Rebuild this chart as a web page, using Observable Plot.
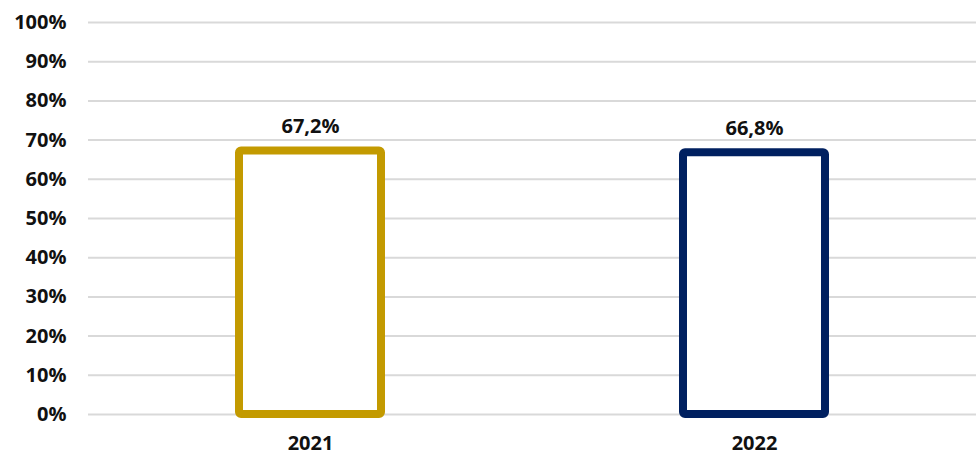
<!DOCTYPE html>
<html>
<head>
<meta charset="utf-8">
<script src="https://cdn.jsdelivr.net/npm/d3@7"></script>
<script src="https://cdn.jsdelivr.net/npm/@observablehq/plot@0.6"></script>
<style>
  html, body { margin: 0; padding: 0; background: #fff; }
  #chart svg { font-family: "Open Sans", sans-serif; overflow: visible; }
</style>
</head>
<body>
<div id="chart"></div>
<script>
const years = ["2021", "2022"];
const values = [67.2, 66.8];
const colors = ["#C39A00", "#002060"];
const yTicks = [0, 10, 20, 30, 40, 50, 60, 70, 80, 90, 100];

const data = years.map((y, i) => ({year: y, value: values[i], color: colors[i]}));
const fmt = v => v.toFixed(1).replace(".", ",") + "%";

const chart = Plot.plot({
  width: 976,
  height: 456,
  marginLeft: 88,
  marginRight: 0,
  marginTop: 22,
  marginBottom: 42,
  style: {fontFamily: "Open Sans, sans-serif", fontWeight: "bold", color: "#111"},
  x: {domain: years, padding: 0},
  y: {domain: [0, 100]},
  marks: [
    Plot.ruleY(yTicks, {stroke: "#d9d9d9", strokeWidth: 2}),
    Plot.axisY({ticks: yTicks, label: null, tickSize: 0, tickPadding: 22, fontSize: 20, fontWeight: "bold", tickFormat: d => d + "%"}),
    Plot.axisX({label: null, tickSize: 0, tickPadding: 21, fontSize: 20, fontWeight: "bold"}),
    Plot.barY(data, {x: "year", y: "value", fill: "white", stroke: "color", strokeWidth: 8, insetLeft: 151, insetRight: 151, rx: 2}),
    Plot.text(data, {x: "year", y: "value", text: d => fmt(d.value), dy: -24, fontSize: 20, fontWeight: "bold", fill: "#111"})
  ]
});
document.getElementById("chart").appendChild(chart);
</script>
</body>
</html>
